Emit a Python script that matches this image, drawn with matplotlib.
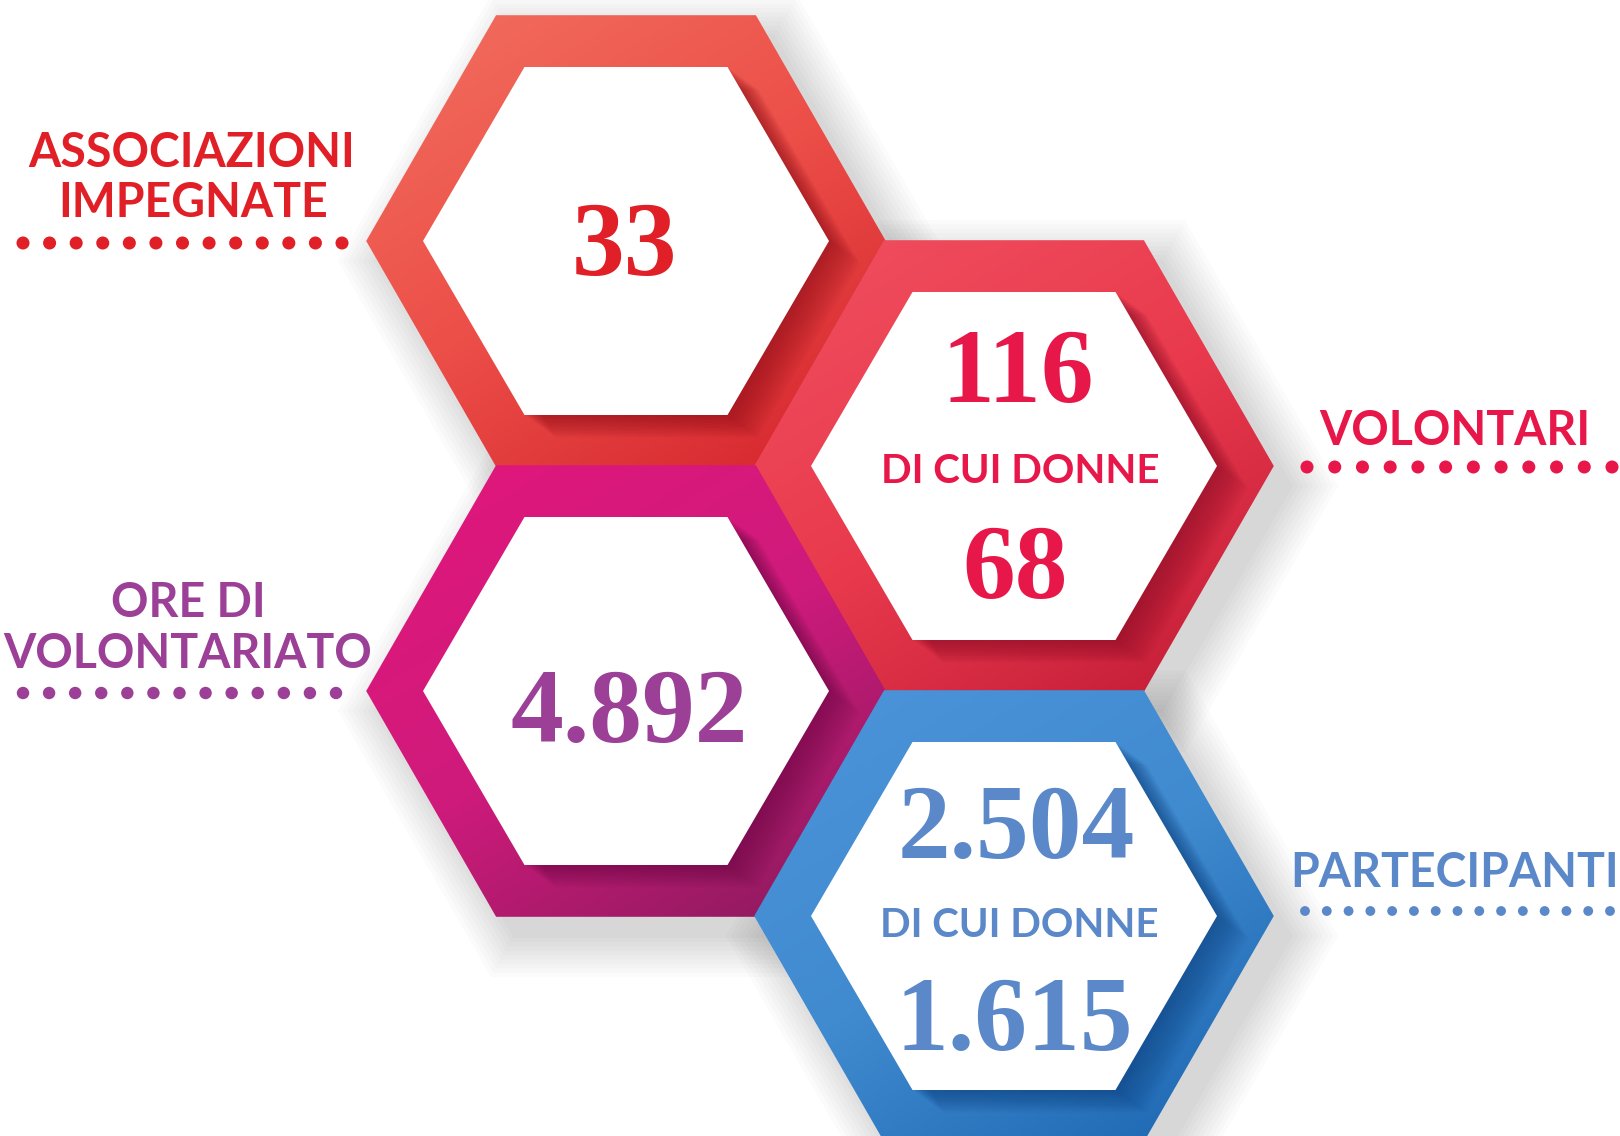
import numpy as np
import matplotlib.pyplot as plt
from matplotlib.patches import Polygon
from matplotlib.colors import LinearSegmentedColormap

# --- data -------------------------------------------------------------
values = ["33", "116", "4.892", "2.504"]
women_values = [None, "68", None, "1.615"]
labels = [["ASSOCIAZIONI", "IMPEGNATE"], ["VOLONTARI"],
          ["ORE DI", "VOLONTARIATO"], ["PARTECIPANTI"]]
women_label = "DI CUI DONNE"

# --- layout / style ---------------------------------------------------
centers = [(626, 241), (1014, 466), (626, 691), (1014, 916)]
W, H = 259, 225      # outer hexagon half width / half height (tiles at 1.5*W)
w, h = 203, 174      # inner (white) hexagon

ring_colors = [
    ["#F2705F", "#EC4E48", "#D3222C"],
    ["#F05060", "#E93A4D", "#C01A36"],
    ["#E3167B", "#CF1B7C", "#861A5A"],
    ["#4D95DA", "#408ACF", "#1A64B0"],
]
shadow_colors = ["#8C0D18", "#880C26", "#6A0C45", "#0C3F7C"]
text_colors = ["#E01F26", "#E8174A", "#9B3F97", "#5B88C8"]

value_pos = [(624, 275), (1018, 402), (629, 742), (1016, 858)]
women_value_pos = [None, (1015, 598), None, (1014, 1050)]
women_label_pos = [None, (1020, 483), None, (1019, 937)]
label_pos = [[(192, 167), (193, 217)], [(1455, 445)],
             [(188, 617), (188, 668)], [(1455, 887)]]
dot_rows = [(23, 342, 243, 13, 88), (1307, 1612, 467, 12, 88),
            (23, 336, 693, 13, 80), (1305, 1610, 911, 15, 50)]

NUM_FONT = "Liberation Serif"
LBL_FONT = "Lato"


def hex_pts(cx, cy, hw, hh):
    return [(cx - hw, cy), (cx - hw / 2, cy - hh), (cx + hw / 2, cy - hh),
            (cx + hw, cy), (cx + hw / 2, cy + hh), (cx - hw / 2, cy + hh)]


fig = plt.figure(figsize=(16.2, 11.36), dpi=100)
fig.patch.set_facecolor("white")
ax = fig.add_axes([0, 0, 1, 1])

# soft drop shadows
for cx, cy in centers:
    for k in range(10):
        grow = 2 + k * 5
        ax.add_patch(Polygon(hex_pts(cx + 18, cy + 20, W + grow, H + grow * 0.87),
                             closed=True, fc="#3a3a3a", ec="none", alpha=0.018, zorder=1))

# coloured rings with gradient, inner shadow, white centre
g = np.linspace(0, 1, 256)
GX, GY = np.meshgrid(g, g)
grad = (0.7 * GX + GY) / 1.7
for i, (cx, cy) in enumerate(centers):
    outer = Polygon(hex_pts(cx, cy, W + 0.8, H + 0.8), closed=True, fc="none",
                    ec="none", zorder=2)
    ax.add_patch(outer)
    cmap = LinearSegmentedColormap.from_list(f"ring{i}", ring_colors[i])
    im = ax.imshow(grad, cmap=cmap, extent=(cx - W - 2, cx + W + 2, cy + H + 2, cy - H - 2),
                   origin="upper", aspect="auto", interpolation="bilinear", zorder=2)
    im.set_clip_path(outer)

    for k in range(14, 0, -1):
        sh = Polygon(hex_pts(cx + 2.2 * k, cy + 1.6 * k, w, h), closed=True,
                     fc=shadow_colors[i], ec="none", alpha=0.055, zorder=3)
        ax.add_patch(sh)
        sh.set_clip_path(outer)

    ax.add_patch(Polygon(hex_pts(cx, cy, w, h), closed=True, fc="white",
                         ec="none", zorder=4))

# numbers
for i, v in enumerate(values):
    x, y = value_pos[i]
    ax.text(x, y, v, ha="center", va="baseline", fontsize=76, fontweight="bold",
            family=NUM_FONT, color=text_colors[i], zorder=5)
    if women_values[i] is not None:
        x, y = women_value_pos[i]
        ax.text(x, y, women_values[i], ha="center", va="baseline", fontsize=76,
                fontweight="bold", family=NUM_FONT, color=text_colors[i], zorder=5)
        x, y = women_label_pos[i]
        ax.text(x, y, women_label, ha="center", va="baseline", fontsize=29,
                fontweight="bold", family=LBL_FONT, color=text_colors[i], zorder=5)

# side labels
for i, lines in enumerate(labels):
    for line, (x, y) in zip(lines, label_pos[i]):
        ax.text(x, y, line, ha="center", va="baseline", fontsize=33.5,
                fontweight="bold", family=LBL_FONT, color=text_colors[i], zorder=5)

# dotted rules under the labels
for i, (x0, x1, y, n, s) in enumerate(dot_rows):
    ax.scatter(np.linspace(x0, x1, n), np.full(n, y), s=s, color=text_colors[i],
               edgecolors="none", zorder=5)

ax.set_xlim(0, 1620)
ax.set_ylim(1136, 0)
ax.axis("off")
fig.savefig("out.png", dpi=100, facecolor="white")
